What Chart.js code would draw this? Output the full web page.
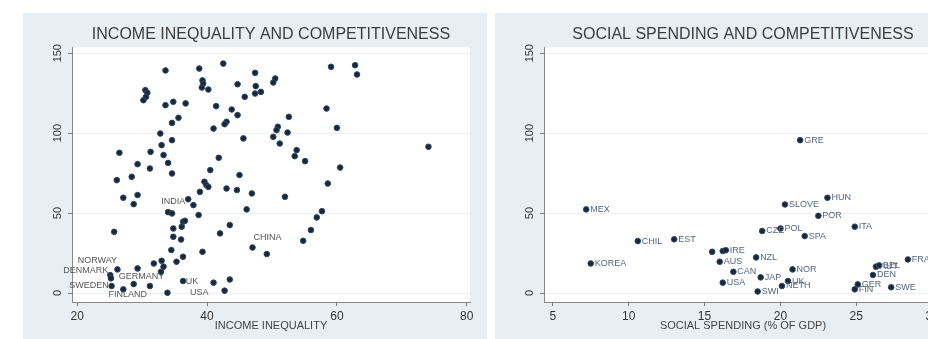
<!DOCTYPE html>
<html>
<head>
<meta charset="utf-8">
<script src="https://cdn.jsdelivr.net/npm/chart.js@4"></script>
<style>
body{margin:0;background:#fff;width:928px;height:339px;overflow:hidden;position:relative}
.panel{position:absolute;top:13px;width:464px;height:326px;background:#e8eef2}
#p1{left:23px}
#p2{left:495px}
canvas{display:block}
</style>
</head>
<body>
<div class="panel" id="p1"><canvas id="c1" width="464" height="326"></canvas></div>
<div class="panel" id="p2"><canvas id="c2" width="464" height="326"></canvas></div>
<script>
// left panel: income inequality vs competitiveness rank
const ineqX = [33.6,38.8,42.5,47.4,59.1,62.8,63.1,39.3,39.4,39.2,40.2,44.7,47.5,47.4,48.3,50.5,50.2,45.8,
  30.5,30.8,30.6,30.2,33.6,34.8,36.7,41.4,43.8,44.7,43.0,42.7,35.6,34.6,41.0,32.8,34.6,33.0,31.3,26.5,33.3,
  34.0,29.3,31.2,34.6,40.5,41.8,45.6,45.0,28.4,26.1,39.6,39.9,40.2,38.9,43.0,44.6,46.9,29.3,27.1,28.7,37.1,
  37.9,34.0,34.6,38.7,46.1,52.0,36.3,36.6,36.1,34.8,43.5,34.8,36.0,42.0,25.7,39.3,34.5,47.0,49.2,54.8,56.0,
  56.9,57.7,58.6,60.5,60.0,58.4,74.1,52.6,52.4,50.9,50.7,50.2,51.2,53.8,53.5,55.1,
  26.2,25.1,25.2,25.3,27.1,28.7,29.3,31.2,31.8,33.0,33.3,32.9,35.3,36.3,33.9,36.3,41.0,43.5,42.7];
const ineqY = [139.2,140.4,143.5,137.7,141.5,142.5,136.7,133,131,128.5,127.3,130.6,129.4,124.8,125.8,134.2,131.7,122.7,
  126.9,125.2,122.7,120.6,117.5,119.6,118.6,116.9,114.8,111.3,107.1,105.6,109.6,106.4,102.9,99.8,95.6,92.5,88.3,87.7,86.3,
  81.4,80.6,77.9,74.8,76.9,84.6,96.7,73.8,72.7,70.6,69.6,67.5,66.4,63.3,65.4,64.4,62.3,61.3,59.6,55.6,58.7,
  55.0,50.6,49.8,48.8,52.3,60.2,44.6,45.2,41.5,40.4,42.5,35.2,33.5,37.3,38.3,25.8,26.9,28.5,24.4,32.7,39.4,
  47.3,51.2,68.5,78.5,103.3,115.4,91.5,110.2,100.4,104,101.9,97.7,93.5,89.4,85.6,82.5,
  14.8,11.2,9.2,4.4,2.3,5.6,15.4,4.4,18.5,20.2,16.5,13.3,19.6,22.7,0.2,7.5,6.5,8.5,1.5];
const ineqNames = ['NORWAY','DENMARK','GERMANY','SWEDEN','FINLAND','INDIA','CHINA','UK','USA'];
const ineqNameX = [23.1,21.3,29.9,21.8,27.8,34.8,49.3,37.7,38.8];
const ineqNameY = [20.2,13.9,10.6,5.0,-1.0,57.3,34.8,7.1,0.2];

// right panel: social spending vs competitiveness rank
const spendNames = ['GRE','HUN','SLOVE','MEX','POR','ITA','POL','CZE','SPA','EST','CHIL','','','IRE','NZL','AUS',
  'KOREA','FRA','AUT','BEL','NOR','CAN','DEN','JAP','UK','USA','NETH','GER','SWE','FIN','SWI'];
const spendX = [21.3,23.1,20.3,7.2,22.5,24.9,20.0,18.8,21.6,13.0,10.6,15.5,16.2,16.4,18.4,16.0,
  7.5,28.4,26.3,26.5,20.8,16.9,26.1,18.7,20.5,16.2,20.1,25.1,27.3,24.9,18.5];
const spendY = [95.6,59.6,55.4,52.3,48.3,41.5,40.4,38.8,35.6,33.6,32.5,25.8,26.3,26.8,22.3,19.6,
  18.5,21.0,16.5,17.3,14.8,13.3,11.3,9.8,7.5,6.5,4.4,5.4,3.6,2.3,1.0];

const yTicks = [0,50,100,150];
const ineqTicks = [20,40,60,80];
const spendTicks = [5,10,15,20,25,30];

const FONT = "'Liberation Sans', Arial, sans-serif";
const MARK = '#1b2636';

const plotBg = {
  id:'plotBg',
  beforeDraw(chart){
    const a = chart.chartArea, ctx = chart.ctx;
    ctx.save();
    ctx.fillStyle = '#fff';
    ctx.fillRect(a.left, a.top, a.right-a.left, a.bottom-a.top);
    ctx.restore();
  }
};

const pointNames = {
  id:'pointNames',
  afterDatasetsDraw(chart){
    const ctx = chart.ctx;
    chart.data.datasets.forEach((ds,i)=>{
      if(!ds.names) return;
      const meta = chart.getDatasetMeta(i);
      ctx.save();
      ctx.font = '9px ' + FONT;
      ctx.fillStyle = ds.nameColor;
      ctx.textAlign = ds.nameAlign;
      ctx.textBaseline = 'middle';
      meta.data.forEach((el,j)=>{
        if(!ds.names[j]) return;
        ctx.fillText(ds.names[j], el.x + ds.nameShift, el.y);
      });
      ctx.restore();
    });
  }
};

function makeScales(xMin, xMax, xTicks, xTitle){
  return {
    x:{
      type:'linear', min:xMin, max:xMax,
      afterBuildTicks:s=>{ s.ticks = xTicks.map(v=>({value:v})); },
      afterFit:s=>{ s.height = 37; },
      grid:{drawOnChartArea:false, tickLength:4, tickColor:'#777'},
      border:{color:'#888'},
      ticks:{font:{family:FONT,size:12}, color:'#333', padding:3, maxRotation:0},
      title:{display:true, text:xTitle, font:{family:FONT,size:11}, color:'#444', padding:{top:0,bottom:6}}
    },
    y:{
      type:'linear', min:-5.6, max:153.75,
      afterBuildTicks:s=>{ s.ticks = yTicks.map(v=>({value:v})); },
      afterFit:s=>{ s.width = 49; },
      grid:{color:'#eef1f4', tickLength:4, tickColor:'#777'},
      border:{color:'#888'},
      ticks:{font:{family:FONT,size:11}, color:'#333', padding:1, minRotation:90, maxRotation:90, crossAlign:'center'}
    }
  };
}

function makeOptions(title, scales){
  return {
    responsive:false, animation:false, devicePixelRatio:1,
    layout:{padding:{top:0,right:17,bottom:0,left:0}},
    plugins:{
      legend:{display:false}, tooltip:{enabled:false},
      title:{display:true, text:title, fullSize:false, color:'#3d3d3d',
        font:{family:FONT,size:16,weight:'normal'}, padding:{top:12,bottom:3}}
    },
    scales
  };
}

new Chart(document.getElementById('c1'), {
  type:'scatter',
  data:{datasets:[
    {data:ineqX.map((x,i)=>({x, y:ineqY[i]})), backgroundColor:MARK, borderColor:'#2c4a6a', borderWidth:1, pointRadius:2.8, clip:false},
    {data:ineqNameX.map((x,i)=>({x, y:ineqNameY[i]})), pointRadius:0, names:ineqNames, nameColor:'#555', nameAlign:'center', nameShift:0, clip:false}
  ]},
  options:makeOptions('INCOME INEQUALITY AND COMPETITIVENESS', makeScales(19.2, 80.5, ineqTicks, 'INCOME INEQUALITY')),
  plugins:[plotBg, pointNames]
});

new Chart(document.getElementById('c2'), {
  type:'scatter',
  data:{datasets:[
    {data:spendX.map((x,i)=>({x, y:spendY[i]})), backgroundColor:MARK, borderColor:'#2c4a6a', borderWidth:1, pointRadius:2.8,
     names:spendNames, nameColor:'#56657c', nameAlign:'left', nameShift:4, clip:false}
  ]},
  options:makeOptions('SOCIAL SPENDING AND COMPETITIVENESS', makeScales(4.42, 30.65, spendTicks, 'SOCIAL SPENDING (% OF GDP)')),
  plugins:[plotBg, pointNames]
});
</script>
</body>
</html>
